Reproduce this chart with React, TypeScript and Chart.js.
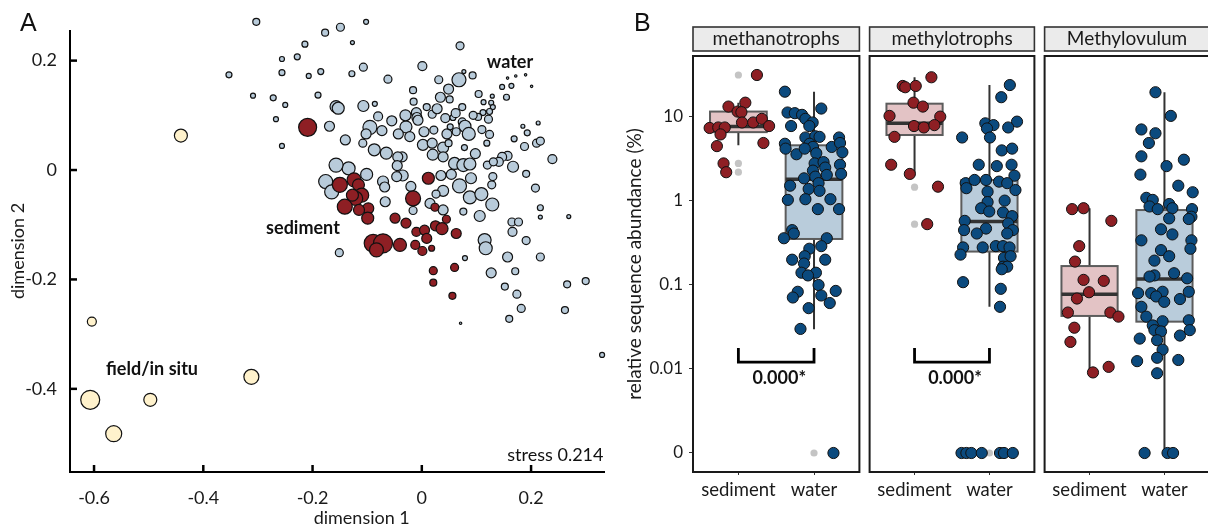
import React, { useEffect, useRef } from 'react';
import { Chart, registerables } from 'chart.js';

Chart.register(...registerables);

const FONT = 'Lato, "Open Sans", "DejaVu Sans", sans-serif';
Chart.defaults.font.family = FONT;
Chart.defaults.color = '#1a1a1a';

// ---------------- Panel A (NMDS) ----------------
const A_X_TICKS = [-0.6, -0.4, -0.2, 0, 0.2];
const A_Y_TICKS = [-0.4, -0.2, 0, 0.2];
const A_X_MIN = -0.644;
const A_X_MAX = 0.3335;
const A_Y_MIN = -0.552;
const A_Y_MAX = 0.2907; // plotting room above the axis line
const A_Y_AXIS_TOP = 0.256; // where the drawn y axis line ends

// [dimension 1, dimension 2, size]
const WATER: [number, number, number][] = [
  [-0.303, 0.271, 3.5], [-0.102, 0.271, 2.5], [-0.149, 0.261, 4], [-0.177, 0.251, 3.5], [-0.214, 0.23, 3],
  [-0.127, 0.233, 2], [-0.256, 0.203, 2.5], [-0.228, 0.207, 3], [-0.256, 0.178, 3], [-0.207, 0.172, 2.5],
  [-0.185, 0.18, 3], [-0.128, 0.176, 3], [-0.107, 0.188, 4], [-0.062, 0.166, 4], [-0.272, 0.132, 3],
  [-0.25, 0.119, 2.5], [-0.19, 0.137, 3], [-0.157, 0.116, 6], [-0.153, 0.113, 6], [-0.107, 0.117, 5.5],
  [-0.086, 0.121, 2.5], [-0.267, 0.093, 2.5], [-0.169, 0.08, 5], [-0.256, 0.044, 2.5], [-0.14, 0.055, 5],
  [0.07, 0.227, 4], [0.001, 0.19, 4.5], [0.077, 0.18, 2], [0.093, 0.173, 3.5], [0.068, 0.165, 7],
  [0.031, 0.165, 4], [0.049, 0.148, 5], [-0.016, 0.146, 3.5], [0.034, 0.133, 5], [0.051, 0.129, 3.5],
  [-0.015, 0.125, 3.5], [0.009, 0.115, 3.5], [0.074, 0.115, 3.5], [0.104, 0.139, 3.5], [0.113, 0.124, 2.5],
  [0.129, 0.135, 2], [0.127, 0.123, 2.5], [0.13, 0.115, 2.5], [0.112, 0.105, 3], [0.124, 0.107, 3],
  [0.103, 0.097, 3.5], [0.122, 0.093, 4], [-0.01, 0.105, 5], [-0.009, 0.096, 5], [-0.007, 0.091, 5],
  [0.019, 0.102, 4], [0.043, 0.095, 4.5], [0.057, 0.096, 3], [0.074, 0.088, 4], [0.079, 0.08, 6],
  [0.086, 0.066, 6.5], [-0.095, 0.078, 7], [-0.073, 0.072, 5], [-0.102, 0.066, 5], [-0.029, 0.079, 6],
  [-0.043, 0.066, 5], [-0.022, 0.061, 5], [0.004, 0.07, 5], [0.022, 0.073, 4], [0.046, 0.066, 5],
  [0.052, 0.079, 3], [0.063, 0.07, 4], [0.11, 0.074, 4], [0.124, 0.065, 4], [-0.108, 0.049, 4],
  [-0.087, 0.037, 6], [-0.065, 0.031, 6], [-0.036, 0.024, 5], [0.002, 0.046, 5.5], [0.019, 0.049, 5],
  [0.039, 0.041, 5.5], [0.049, 0.049, 3.5], [0.078, 0.041, 3], [0.119, 0.049, 3], [0.169, 0.057, 3],
  [0.185, 0.08, 2], [0.213, 0.086, 2], [0.193, 0.068, 3], [0.21, 0.049, 4], [0.217, 0.053, 4],
  [0.188, 0.043, 4], [0.239, 0.02, 4.5], [0.157, 0.026, 4.5], [0.147, 0.024, 4.5], [0.141, 0.015, 4.5],
  [0.167, 0.006, 5.5], [0.12, 0.009, 4], [0.131, 0.015, 4], [0.191, -0.007, 3.5], [0.13, -0.012, 4],
  [0.208, -0.033, 4], [0.217, -0.069, 3], [0.217, -0.086, 2], [0.269, -0.085, 2], [-0.044, 0.024, 5],
  [0.039, 0.024, 5], [0.06, 0.012, 6], [0.076, 0.009, 6.5], [0.088, 0.011, 6], [-0.045, 0.008, 5],
  [-0.035, -0.01, 5.5], [-0.046, -0.012, 5], [0.035, -0.01, 5], [0.054, -0.008, 5], [0.039, -0.038, 5.5],
  [0.069, -0.029, 7], [0.088, -0.05, 6.5], [0.109, -0.044, 6.5], [0.128, -0.027, 4], [0.129, -0.063, 6.5],
  [0.076, -0.076, 3.5], [0.106, -0.084, 5.5], [0.165, -0.095, 4], [0.177, -0.095, 4], [0.166, -0.113, 4.5],
  [0.115, -0.128, 6.5], [0.117, -0.143, 6.5], [0.191, -0.129, 4], [0.217, -0.159, 4], [0.157, -0.159, 5],
  [0.079, -0.161, 2.5], [0.026, -0.044, 4], [0.015, -0.061, 5], [0.039, -0.073, 5], [-0.016, -0.074, 4],
  [-0.067, -0.058, 5], [-0.071, -0.021, 5.5], [-0.068, -0.031, 5], [-0.101, -0.008, 6], [-0.134, 0.003, 6.5],
  [-0.157, 0.009, 7], [-0.176, -0.021, 7], [-0.165, -0.04, 7], [-0.151, -0.151, 4], [0.127, -0.188, 5],
  [0.171, -0.185, 3.5], [0.152, -0.213, 3.5], [0.174, -0.227, 4], [0.182, -0.253, 4], [0.16, -0.272, 3.5],
  [0.266, -0.209, 3.5], [0.3, -0.203, 3.5], [0.262, -0.256, 3.5], [0.33, -0.338, 2.5], [-0.353, 0.174, 3],
  [-0.309, 0.136, 2.5], [0.147, 0.152, 2.5], [0.164, 0.154, 2.5], [0.155, 0.133, 3], [0.157, 0.168, 1.2],
  [0.172, 0.172, 1.2], [0.19, 0.174, 1.2], [0.201, 0.153, 1.2], [0.071, -0.28, 1.2],
  [-0.03, 0.1, 5.5], [0.028, 0.112, 5], [0.062, 0.104, 4.5], [-0.055, 0.09, 5], [0.094, 0.1, 4],
  [-0.08, 0.098, 4.5], [0.02, 0.028, 5.5], [0.098, 0.03, 5], [-0.02, -0.03, 5], [0.09, -0.015, 5.5],
];

const SEDIMENT: [number, number, number][] = [
  [-0.209, 0.078, 9], [0.012, -0.015, 6], [-0.016, -0.052, 7.5], [0.024, -0.068, 4], [-0.15, -0.027, 7.5],
  [-0.124, -0.018, 7], [-0.116, -0.027, 6], [-0.11, -0.046, 7], [-0.121, -0.052, 7], [-0.141, -0.067, 7.5],
  [-0.098, -0.07, 5.5], [-0.099, -0.088, 6], [-0.115, -0.073, 5.5], [-0.127, -0.046, 6], [-0.049, -0.088, 5],
  [-0.029, -0.097, 5], [-0.01, -0.113, 4.5], [0.005, -0.11, 5], [0.009, -0.125, 5], [0.025, -0.102, 5],
  [0.037, -0.107, 6], [0.045, -0.09, 4], [0.063, -0.116, 5], [-0.012, -0.137, 4.5], [0.001, -0.148, 4.5],
  [0.018, -0.143, 3], [-0.089, -0.134, 9], [-0.071, -0.134, 9.5], [-0.04, -0.137, 6.5], [-0.083, -0.146, 7],
  [0.021, -0.184, 4], [0.021, -0.206, 3.5], [0.06, -0.178, 4], [0.056, -0.23, 3.5],
];

const FIELD: [number, number, number][] = [
  [-0.441, 0.063, 6.5], [-0.604, -0.277, 4.5], [-0.607, -0.42, 9.5], [-0.564, -0.482, 8], [-0.497, -0.42, 6.5],
  [-0.312, -0.378, 7.5],
];

const A_NOTES = [
  { text: 'water', x: 0.119, y: 0.187, bold: true, align: 'left' },
  { text: 'sediment', x: -0.285, y: -0.117, bold: true, align: 'left' },
  { text: 'field/in situ', x: -0.578, y: -0.375, bold: true, align: 'left' },
  { text: 'stress 0.214', x: 0.3325, y: -0.531, bold: false, align: 'right' },
];
const A_X_TITLE = { text: 'dimension 1', x: -0.11 };
const A_Y_TITLE = 'dimension 2';

// ---------------- Panel B (facets) ----------------
const GROUPS = ['sediment', 'water'];
const FACETS = ['methanotrophs', 'methylotrophs', 'Methylovulum'];
const B_TICKS = [0.001, 0.01, 0.1, 1, 10];
const B_TICK_LABELS = ['0', '0.01', '0.1', '1', '10'];
const ZERO_AT = 0.001;
const B_Y_MIN = 0.000594;
const B_Y_MAX = 53.2;

// methanotrophs
const MTR_SED_VAL = [31.6, 13.3, 14.8, 11.6, 11.4, 7.4, 7.5, 7.5, 6.2, 4.5, 8.6, 8.6, 9.5, 7.8, 4.9, 2.8, 2.2];
const MTR_SED_JIT = [0.245, -0.131, 0.092, -0.01, 0.04, -0.38, -0.266, -0.18, -0.236, -0.284, 0.048, 0.196, 0.31, 0.406, 0.331, -0.196, -0.161];
const MTR_WAT_VAL = [20.0, 12.6, 11.3, 11.1, 10.6, 9.5, 8.6, 7.8, 7.8, 4.8, 4.2, 3.6, 5.7, 5.9, 5.8, 4.8, 4.4, 4.2, 3.7, 4.4, 5.7, 4.9, 3.8, 2.7, 2.1, 2.8, 2.9, 2.5, 2.3, 1.86, 1.95, 2.04, 1.52, 1.39, 1.63, 1.32, 1.03, 1.05, 0.8, 1.05, 0.8, 0.45, 0.41, 0.36, 0.36, 0.29, 0.27, 0.22, 0.2, 0.2, 0.18, 0.14, 0.14, 0.13, 0.1, 0.085, 0.083, 0.071, 0.075, 0.061, 0.053, 0.03, 0];
const MTR_WAT_JIT = [-0.385, 0.096, -0.35, -0.254, -0.158, -0.114, -0.018, -0.062, -0.303, -0.385, -0.376, -0.232, -0.114, 0.017, 0.073, -0.058, -0.014, -0.123, 0.03, 0.234, 0.331, 0.344, 0.375, 0.344, 0.358, 0.008, 0.126, 0.148, -0.014, -0.132, 0.017, 0.169, -0.316, -0.071, 0.06, 0.073, -0.346, -0.114, 0.051, 0.217, 0.331, -0.289, -0.267, -0.398, 0.169, 0.096, -0.062, -0.123, -0.289, 0.148, -0.132, -0.166, 0.025, -0.08, 0.06, 0.287, -0.215, -0.28, 0.096, 0.208, -0.071, -0.179, 0.257];
// [lower whisker, q1, median, q3, upper whisker]
const MTR_SED_BOX = [4.6, 6.6, 7.7, 11.6, 14.8];
const MTR_WAT_BOX = [0.0297, 0.353, 1.81, 4.6, 19.9];
const MTR_SED_OUT = [31.6, 2.8, 2.2];
const MTR_WAT_OUT = [0];

// methylotrophs
const MTL_SED_VAL = [29.7, 23.4, 22.6, 23.4, 14.8, 13.3, 10.3, 10.1, 7.8, 7.5, 8.0, 5.8, 2.7, 2.1, 1.48, 0.53];
const MTL_SED_JIT = [0.225, -0.158, -0.124, 0.016, -0.014, 0.111, -0.334, 0.343, -0.007, 0.124, 0.265, -0.268, -0.312, -0.063, 0.313, 0.169];
const MTL_WAT_VAL = [24.0, 17.2, 8.8, 7.5, 8.4, 8.0, 7.3, 5.7, 5.7, 4.0, 4.2, 2.7, 2.6, 2.7, 2.0, 1.63, 1.78, 1.78, 1.7, 1.63, 1.35, 1.42, 1.29, 1.01, 0.97, 0.82, 0.75, 0.73, 0.66, 0.58, 0.45, 0.47, 0.54, 0.45, 0.41, 0.41, 0.28, 0.23, 0.28, 0.29, 0.29, 0.28, 0.21, 0.22, 0.165, 0.165, 0.154, 0.108, 0.09, 0.055, 0, 0, 0, 0, 0, 0, 0];
const MTL_WAT_JIT = [0.272, 0.158, 0.368, 0.25, -0.055, 0.054, -0.033, 0.007, -0.365, 0.164, 0.303, -0.143, 0.098, 0.295, 0.334, -0.317, -0.199, -0.046, 0.128, 0.237, 0.347, -0.308, -0.025, 0.203, -0.025, -0.111, -0.003, 0.181, 0.303, -0.33, -0.339, -0.046, 0.25, 0.312, -0.169, 0.237, -0.352, -0.386, -0.09, 0.085, 0.181, 0.268, 0.194, 0.282, 0.181, 0.237, 0.164, -0.352, 0.151, 0.141, -0.373, -0.308, -0.242, -0.103, 0.141, 0.194, 0.312];
const MTL_SED_BOX = [2.14, 6.1, 8.4, 14.4, 29.7];
const MTL_WAT_BOX = [0.055, 0.25, 0.57, 1.78, 24.0];
const MTL_SED_OUT = [1.46, 0.53];
const MTL_WAT_OUT = [0];

// Methylovulum
const MVL_SED_VAL = [0.8, 0.82, 0.58, 0.29, 0.19, 0.115, 0.112, 0.082, 0.069, 0.047, 0.047, 0.042, 0.031, 0.021, 0.0091, 0.0106];
const MVL_SED_JIT = [-0.233, -0.08, 0.291, -0.138, -0.194, -0.08, 0.19, -0.007, -0.168, -0.289, 0.278, 0.386, -0.203, -0.255, 0.046, 0.255];
const MVL_WAT_VAL = [19.7, 10.3, 7.1, 6.4, 4.9, 3.4, 3.1, 2.6, 2.06, 1.52, 1.27, 1.09, 1.03, 0.86, 0.8, 0.92, 0.82, 0.8, 0.62, 0.65, 0.61, 0.46, 0.4, 0.34, 0.34, 0.27, 0.26, 0.22, 0.195, 0.13, 0.126, 0.138, 0.12, 0.08, 0.08, 0.083, 0.073, 0.063, 0.068, 0.083, 0.055, 0.042, 0.037, 0.038, 0.029, 0.033, 0.029, 0.028, 0.023, 0.022, 0.025, 0.017, 0.0124, 0.0136, 0.0128, 0.0089, 0, 0, 0];
const MVL_WAT_JIT = [-0.12, 0.085, -0.308, -0.12, -0.208, -0.308, 0.259, 0.028, -0.321, 0.185, 0.377, -0.242, -0.156, -0.199, -0.09, 0.063, 0.106, 0.368, 0.063, 0.36, 0.325, -0.046, 0.106, -0.308, 0.36, 0.347, -0.046, 0.063, -0.134, -0.134, -0.199, 0.128, 0.303, -0.352, -0.177, -0.025, -0.111, -0.003, 0.207, 0.325, -0.308, -0.242, -0.025, 0.325, 0.338, -0.156, -0.134, -0.046, -0.33, -0.098, 0.207, -0.025, -0.365, -0.098, 0.185, -0.098, -0.265, 0.041, 0.115];
const MVL_SED_BOX = [0.009, 0.0428, 0.0775, 0.168, 0.82];
const MVL_WAT_BOX = [0, 0.0366, 0.118, 0.78, 19.7];
const MVL_SED_OUT: number[] = [];
const MVL_WAT_OUT: number[] = [];

const BRACKET_LABELS = ['0.000*', '0.000*', ''];
const BRACKET_TOP = 0.0178;
const BRACKET_BOTTOM = 0.0121;
const BRACKET_TEXT_Y = 0.0078;

const VALUES = [[MTR_SED_VAL, MTL_SED_VAL, MVL_SED_VAL], [MTR_WAT_VAL, MTL_WAT_VAL, MVL_WAT_VAL]];
const JITTERS = [[MTR_SED_JIT, MTL_SED_JIT, MVL_SED_JIT], [MTR_WAT_JIT, MTL_WAT_JIT, MVL_WAT_JIT]];
const BOXES = [[MTR_SED_BOX, MTL_SED_BOX, MVL_SED_BOX], [MTR_WAT_BOX, MTL_WAT_BOX, MVL_WAT_BOX]];
const OUTLIERS = [[MTR_SED_OUT, MTL_SED_OUT, MVL_SED_OUT], [MTR_WAT_OUT, MTL_WAT_OUT, MVL_WAT_OUT]];

// ---------------- styles ----------------
const A_COLORS = { water: '#b8cbda', sediment: '#8e1f24', field: '#fff2cc' };
const B_POINT = ['#8e1f24', '#0b4a7e'];
const B_BOX = ['#e3c3c5', '#b9ccdb'];
const BOX_WIDTH = 0.75;
const FACET_LEFT = [693, 868, 1043];
const FACET_W = 168;

const toPlot = (v: number) => (v === 0 ? ZERO_AT : v);

const panelAPlugin = {
  id: 'panelA',
  afterDatasetsDraw(chart: any) {
    const { ctx, chartArea: ca, scales } = chart;
    const sx = scales.x;
    const sy = scales.y;
    ctx.save();
    // y axis line (ends below the top of the plotting room)
    ctx.strokeStyle = '#000';
    ctx.lineWidth = 2;
    ctx.beginPath();
    ctx.moveTo(ca.left, sy.getPixelForValue(A_Y_AXIS_TOP));
    ctx.lineTo(ca.left, ca.bottom + 1);
    ctx.stroke();
    // inward ticks
    ctx.lineWidth = 2.5;
    A_X_TICKS.forEach((v) => {
      const px = sx.getPixelForValue(v);
      ctx.beginPath();
      ctx.moveTo(px, ca.bottom);
      ctx.lineTo(px, ca.bottom - 7);
      ctx.stroke();
    });
    A_Y_TICKS.forEach((v) => {
      const py = sy.getPixelForValue(v);
      ctx.beginPath();
      ctx.moveTo(ca.left, py);
      ctx.lineTo(ca.left + 7, py);
      ctx.stroke();
    });
    ctx.fillStyle = '#111';
    ctx.textBaseline = 'alphabetic';
    A_NOTES.forEach((n) => {
      ctx.font = `${n.bold ? 'bold ' : ''}18px ${FONT}`;
      ctx.textAlign = n.align;
      ctx.fillText(n.text, sx.getPixelForValue(n.x), sy.getPixelForValue(n.y));
    });
    // axis titles
    ctx.fillStyle = '#1a1a1a';
    ctx.font = `18px ${FONT}`;
    ctx.textAlign = 'center';
    ctx.textBaseline = 'middle';
    ctx.fillText(A_X_TITLE.text, sx.getPixelForValue(A_X_TITLE.x), chart.height - 10);
    const cy = (sy.getPixelForValue(A_Y_AXIS_TOP) + sy.getPixelForValue(A_Y_MIN)) / 2;
    ctx.translate(18, cy);
    ctx.rotate(-Math.PI / 2);
    ctx.fillText(A_Y_TITLE, 0, 0);
    ctx.restore();
  },
};

function makePanelA(canvas: HTMLCanvasElement) {
  const toBubbles = (arr: [number, number, number][]) => arr.map(([x, y, s]) => ({ x, y, r: s }));
  const common = { borderColor: '#111', borderWidth: 1.2, clip: false };
  return new Chart(canvas, {
    type: 'bubble',
    data: {
      datasets: [
        { label: 'sediment', data: toBubbles(SEDIMENT), backgroundColor: A_COLORS.sediment, order: 0, ...common },
        { label: 'water', data: toBubbles(WATER), backgroundColor: A_COLORS.water, order: 1, ...common },
        { label: 'field/in situ', data: toBubbles(FIELD), backgroundColor: A_COLORS.field, order: 2, ...common },
      ],
    },
    options: {
      responsive: false,
      animation: false,
      events: [],
      layout: { padding: { top: 11, right: 16, left: 0, bottom: 0 } },
      plugins: { legend: { display: false }, tooltip: { enabled: false } },
      scales: {
        x: {
          type: 'linear',
          min: A_X_MIN,
          max: A_X_MAX,
          afterBuildTicks: (s: any) => { s.ticks = A_X_TICKS.map((v) => ({ value: v })); },
          afterFit: (s: any) => { s.height = 56; s.paddingLeft = 0; s.paddingRight = 0; },
          grid: { display: false },
          border: { display: true, color: '#000', width: 2 },
          ticks: { font: { size: 18 }, color: '#1a1a1a', padding: 7, callback: (v: any) => (v === 0 ? '0' : Number(v).toFixed(1)) },
          title: { display: false },
        },
        y: {
          type: 'linear',
          min: A_Y_MIN,
          max: A_Y_MAX,
          afterBuildTicks: (s: any) => { s.ticks = A_Y_TICKS.map((v) => ({ value: v })); },
          afterFit: (s: any) => { s.width = 70; s.paddingTop = 0; s.paddingBottom = 0; },
          grid: { display: false },
          border: { display: false },
          ticks: { font: { size: 18 }, color: '#1a1a1a', padding: 5, callback: (v: any) => (v === 0 ? '0' : Number(v).toFixed(1)) },
          title: { display: false },
        },
      },
    },
    plugins: [panelAPlugin],
  } as any);
}

function facetPlugin(f: number) {
  return {
    id: 'facet' + f,
    beforeDatasetsDraw(chart: any) {
      const { ctx, chartArea: ca, scales } = chart;
      const sx = scales.x;
      const sy = scales.y;
      const py = (v: number) => sy.getPixelForValue(toPlot(v));
      ctx.save();
      // strip
      ctx.fillStyle = '#ebebeb';
      ctx.fillRect(ca.left, ca.top - 29, ca.right - ca.left, 24);
      ctx.strokeStyle = '#333';
      ctx.lineWidth = 1.6;
      ctx.strokeRect(ca.left, ca.top - 29, ca.right - ca.left, 24);
      ctx.fillStyle = '#1a1a1a';
      ctx.font = `19px ${FONT}`;
      ctx.textAlign = 'center';
      ctx.textBaseline = 'middle';
      ctx.fillText(FACETS[f], (ca.left + ca.right) / 2, ca.top - 17);
      // boxplots
      for (let g = 0; g < GROUPS.length; g++) {
        const [lo, q1, med, q3, hi] = BOXES[g][f];
        const cx = sx.getPixelForValue(g + 1);
        const x0 = sx.getPixelForValue(g + 1 - BOX_WIDTH / 2);
        const x1 = sx.getPixelForValue(g + 1 + BOX_WIDTH / 2);
        ctx.strokeStyle = '#333';
        ctx.lineWidth = 2;
        ctx.beginPath();
        ctx.moveTo(cx, py(hi));
        ctx.lineTo(cx, py(q3));
        ctx.moveTo(cx, py(q1));
        ctx.lineTo(cx, py(lo));
        ctx.stroke();
        ctx.fillStyle = B_BOX[g];
        ctx.fillRect(x0, py(q3), x1 - x0, py(q1) - py(q3));
        ctx.strokeStyle = '#5c5c5c';
        ctx.lineWidth = 2;
        ctx.strokeRect(x0, py(q3), x1 - x0, py(q1) - py(q3));
        ctx.strokeStyle = '#333';
        ctx.lineWidth = 3.5;
        ctx.beginPath();
        ctx.moveTo(x0, py(med));
        ctx.lineTo(x1, py(med));
        ctx.stroke();
        ctx.fillStyle = '#c4c4c4';
        OUTLIERS[g][f].forEach((v) => {
          ctx.beginPath();
          ctx.arc(cx, py(v), 3.6, 0, Math.PI * 2);
          ctx.fill();
        });
      }
      ctx.restore();
    },
    afterDatasetsDraw(chart: any) {
      const { ctx, chartArea: ca, scales } = chart;
      const sx = scales.x;
      const sy = scales.y;
      ctx.save();
      ctx.strokeStyle = '#1a1a1a';
      ctx.lineWidth = 2;
      ctx.strokeRect(ca.left, ca.top, ca.right - ca.left, ca.bottom - ca.top);
      const label = BRACKET_LABELS[f];
      if (label) {
        const xa = sx.getPixelForValue(1);
        const xb = sx.getPixelForValue(2);
        const yt = sy.getPixelForValue(BRACKET_TOP);
        const yb = sy.getPixelForValue(BRACKET_BOTTOM);
        ctx.strokeStyle = '#000';
        ctx.lineWidth = 2.8;
        ctx.lineJoin = 'miter';
        ctx.beginPath();
        ctx.moveTo(xa, yt);
        ctx.lineTo(xa, yb);
        ctx.lineTo(xb, yb);
        ctx.lineTo(xb, yt);
        ctx.stroke();
        ctx.fillStyle = '#111';
        ctx.font = `bold 18px ${FONT}`;
        ctx.textAlign = 'center';
        ctx.textBaseline = 'middle';
        ctx.fillText(label, sx.getPixelForValue(1.54), sy.getPixelForValue(BRACKET_TEXT_Y));
      }
      ctx.restore();
    },
  };
}

function makeFacet(canvas: HTMLCanvasElement, f: number) {
  const showY = f === 0;
  const datasets = GROUPS.map((name, g) => ({
    type: 'scatter',
    label: name,
    data: VALUES[g][f].map((v, i) => ({ x: g + 1 + JITTERS[g][f][i], y: toPlot(v) })),
    backgroundColor: B_POINT[g],
    borderColor: '#111',
    borderWidth: 1,
    pointRadius: 5.6,
    clip: false,
  }));
  return new Chart(canvas, {
    type: 'scatter',
    data: { datasets },
    options: {
      responsive: false,
      animation: false,
      events: [],
      layout: { padding: { top: 56, right: 5, left: showY ? 0 : 5, bottom: 0 } },
      plugins: { legend: { display: false }, tooltip: { enabled: false } },
      scales: {
        x: {
          type: 'linear',
          min: 0.4,
          max: 2.6,
          afterBuildTicks: (s: any) => { s.ticks = GROUPS.map((_, i) => ({ value: i + 1 })); },
          afterFit: (s: any) => { s.height = 56; s.paddingLeft = 0; s.paddingRight = 0; },
          grid: { display: true, drawOnChartArea: false, drawTicks: true, tickLength: 3, color: '#333', lineWidth: 1 },
          border: { display: false },
          ticks: { autoSkip: false, maxRotation: 0, font: { size: 18.5 }, color: '#1a1a1a', padding: 4, callback: (_v: any, i: number) => GROUPS[i] },
        },
        y: {
          type: 'logarithmic',
          display: showY,
          min: B_Y_MIN,
          max: B_Y_MAX,
          afterBuildTicks: (s: any) => { s.ticks = B_TICKS.map((v) => ({ value: v })); },
          afterFit: (s: any) => { if (showY) s.width = 73; s.paddingTop = 0; s.paddingBottom = 0; },
          grid: { display: true, drawOnChartArea: false, drawTicks: true, tickLength: 4, color: '#333', lineWidth: 1 },
          border: { display: false },
          ticks: { autoSkip: false, font: { size: 17 }, color: '#1a1a1a', padding: 6, callback: (_v: any, i: number) => B_TICK_LABELS[i] },
          title: { display: showY, text: 'relative sequence abundance (%)', font: { size: 19 }, color: '#1a1a1a', padding: { top: 3, bottom: 0 } },
        },
      },
    },
    plugins: [facetPlugin(f)],
  } as any);
}

export default function App() {
  const aRef = useRef<HTMLCanvasElement | null>(null);
  const f0 = useRef<HTMLCanvasElement | null>(null);
  const f1 = useRef<HTMLCanvasElement | null>(null);
  const f2 = useRef<HTMLCanvasElement | null>(null);

  useEffect(() => {
    const charts: Chart[] = [];
    if (aRef.current) charts.push(makePanelA(aRef.current));
    [f0, f1, f2].forEach((r, i) => {
      if (r.current) charts.push(makeFacet(r.current, i));
    });
    return () => charts.forEach((c) => c.destroy());
  }, []);

  const labelStyle: React.CSSProperties = {
    position: 'absolute',
    top: 10,
    fontFamily: '"Liberation Sans", Arial, sans-serif',
    fontSize: 25,
    lineHeight: '25px',
    color: '#111',
  };

  return (
    <div style={{ position: 'absolute', left: 0, top: 0, width: 1208, height: 528, overflow: 'hidden', background: '#fff' }}>
      <canvas ref={aRef} width={620} height={528} style={{ position: 'absolute', left: 0, top: 0 }} />
      <canvas ref={f0} width={246} height={528} style={{ position: 'absolute', left: FACET_LEFT[0] - 73, top: 0 }} />
      <canvas ref={f1} width={FACET_W + 10} height={528} style={{ position: 'absolute', left: FACET_LEFT[1] - 5, top: 0 }} />
      <canvas ref={f2} width={FACET_W + 10} height={528} style={{ position: 'absolute', left: FACET_LEFT[2] - 5, top: 0 }} />
      <div style={{ ...labelStyle, left: 20 }}>A</div>
      <div style={{ ...labelStyle, left: 634 }}>B</div>
    </div>
  );
}
